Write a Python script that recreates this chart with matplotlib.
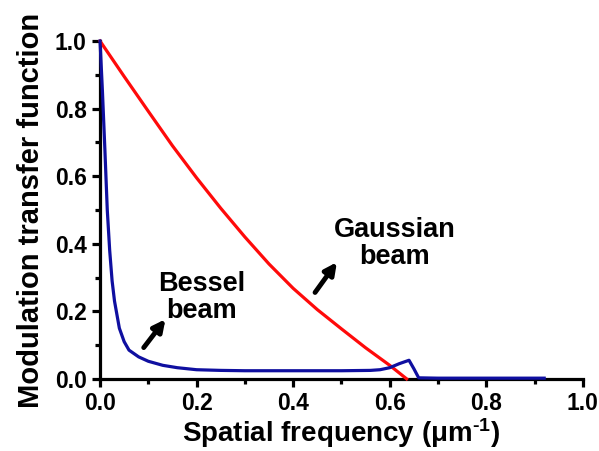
import numpy as np
import matplotlib
matplotlib.use("Agg")
import matplotlib.pyplot as plt
from matplotlib.ticker import MultipleLocator, FormatStrFormatter

plt.rcParams['font.family'] = ['Liberation Sans', 'DejaVu Sans']
plt.rcParams['font.weight'] = 'bold'
plt.rcParams['mathtext.fontset'] = 'custom'
plt.rcParams['mathtext.bf'] = 'Liberation Sans:bold'
plt.rcParams['mathtext.rm'] = 'Liberation Sans:bold'
plt.rcParams['mathtext.default'] = 'bf'

# Gaussian beam MTF
gauss_x = [0.0, 0.05, 0.1, 0.15, 0.2, 0.25, 0.3, 0.35, 0.4, 0.45, 0.5, 0.55, 0.6, 0.635]
gauss_y = [1.0, 0.895, 0.792, 0.690, 0.595, 0.505, 0.42, 0.34, 0.268, 0.205, 0.148, 0.092, 0.04, 0.0]

# Bessel beam MTF
bessel_x = [0.0, 0.005, 0.01, 0.015, 0.02, 0.025, 0.03, 0.04, 0.05, 0.06, 0.08, 0.1,
            0.13, 0.16, 0.2, 0.25, 0.3, 0.4, 0.5, 0.56, 0.58, 0.6, 0.62, 0.64, 0.65,
            0.66, 0.7, 0.8, 0.92]
bessel_y = [1.0, 0.85, 0.68, 0.5, 0.38, 0.29, 0.23, 0.15, 0.11, 0.085, 0.065, 0.052,
            0.04, 0.033, 0.027, 0.025, 0.024, 0.024, 0.024, 0.025, 0.027, 0.033, 0.045,
            0.055, 0.03, 0.003, 0.002, 0.002, 0.002]

fig = plt.figure(figsize=(5.99, 4.51), dpi=100)
ax = fig.add_axes([0.167, 0.16, 0.806, 0.749])

ax.plot(gauss_x, gauss_y, color='#ff0a0a', lw=2.3, clip_on=False, zorder=3)
ax.plot(bessel_x, bessel_y, color='#0f0fa0', lw=2.3, clip_on=False, zorder=4)

ax.set_xlim(0, 1)
ax.set_ylim(0, 1)
for s in ['top', 'right']:
    ax.spines[s].set_visible(False)
for s in ['left', 'bottom']:
    ax.spines[s].set_linewidth(2.3)

ax.xaxis.set_major_locator(MultipleLocator(0.2))
ax.xaxis.set_minor_locator(MultipleLocator(0.1))
ax.yaxis.set_major_locator(MultipleLocator(0.2))
ax.yaxis.set_minor_locator(MultipleLocator(0.1))
ax.tick_params(which='major', length=6, width=2.3, labelsize=16.5, direction='out')
ax.tick_params(which='minor', length=3.5, width=2.3, direction='out')
ax.xaxis.set_major_formatter(FormatStrFormatter('%.1f'))
ax.yaxis.set_major_formatter(FormatStrFormatter('%.1f'))

ax.set_xlabel(r'Spatial frequency (μm$^{\text{-1}}$)', fontsize=20, fontweight='bold', labelpad=1)
ax.set_ylabel('Modulation transfer function', fontsize=21, fontweight='bold', labelpad=7)

ax.text(0.21, 0.24, 'Bessel\nbeam', fontsize=19.5, fontweight='bold', ha='center',
        va='center', linespacing=1.05)
ax.text(0.61, 0.40, 'Gaussian\nbeam', fontsize=19.5, fontweight='bold', ha='center',
        va='center', linespacing=1.05)

arrow = dict(arrowstyle='-|>,head_length=0.7,head_width=0.35', color='black', lw=3.5)
ax.annotate('', xy=(0.139, 0.183), xytext=(0.087, 0.086), arrowprops=arrow)
ax.annotate('', xy=(0.494, 0.352), xytext=(0.442, 0.249), arrowprops=arrow)

fig.savefig('out.png', dpi=100)
